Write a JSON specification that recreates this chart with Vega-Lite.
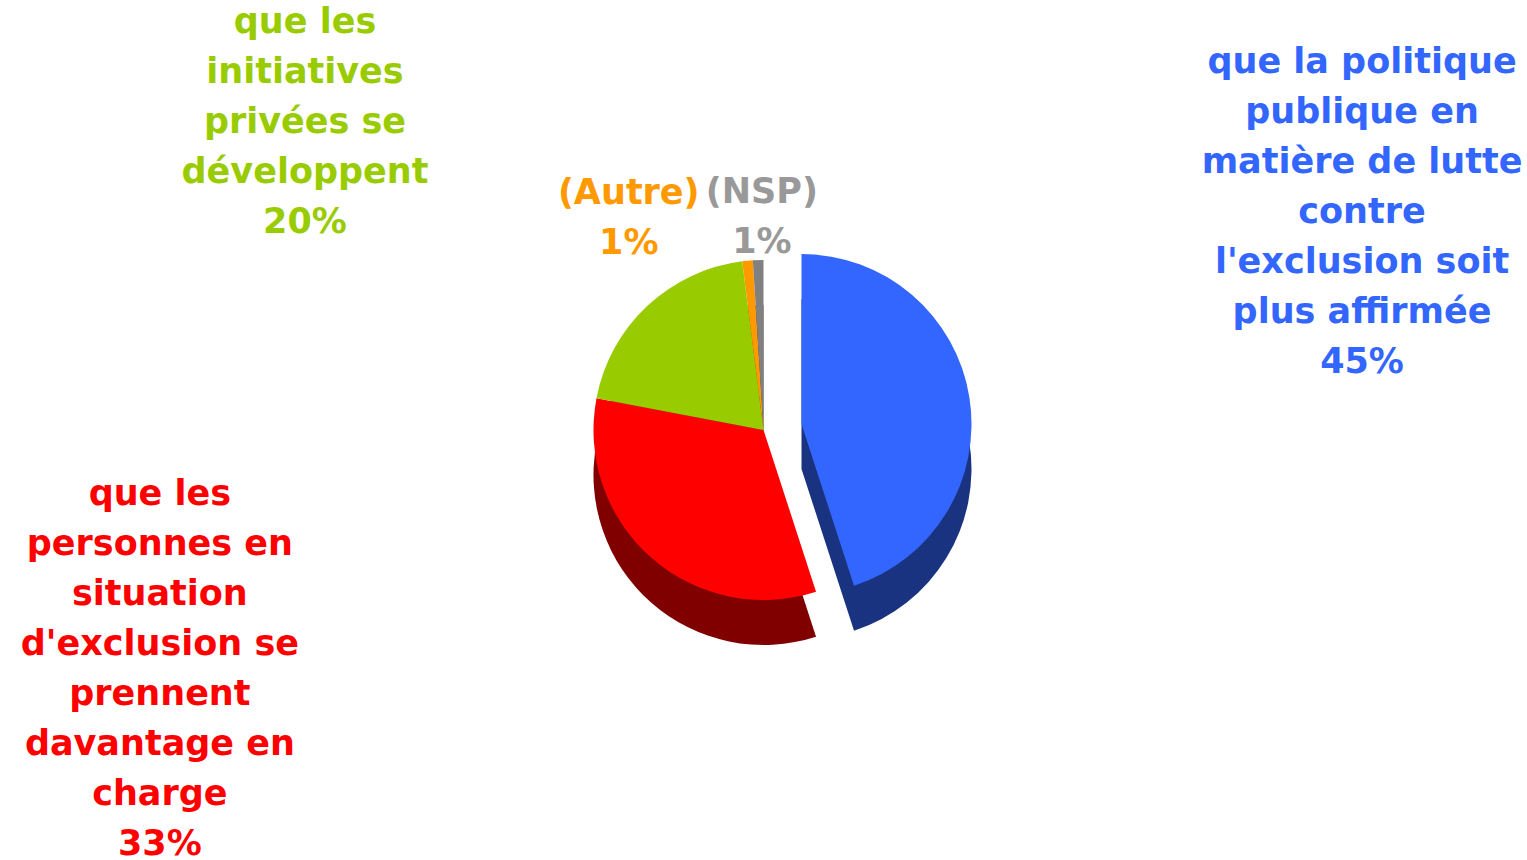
{
  "$schema": "https://vega.github.io/schema/vega-lite/v6.json",
  "width": 1527,
  "height": 860,
  "autosize": {"type": "none"},
  "padding": 0,
  "background": "#ffffff",
  "config": {"view": {"stroke": null}},
  "data": {
    "values": [
      {"categorie": "politique", "pct": 45, "ordre": 1, "label": "que la politique\npublique en\nmatière de lutte\ncontre\nl'exclusion soit\nplus affirmée\n45%"},
      {"categorie": "personnes", "pct": 33, "ordre": 2, "label": "que les\npersonnes en\nsituation\nd'exclusion se\nprennent\ndavantage en\ncharge\n33%"},
      {"categorie": "initiatives", "pct": 20, "ordre": 3, "label": "que les\ninitiatives\nprivées se\ndéveloppent\n20%"},
      {"categorie": "Autre", "pct": 1, "ordre": 4, "label": "(Autre)\n1%"},
      {"categorie": "NSP", "pct": 1, "ordre": 5, "label": "(NSP)\n1%"}
    ]
  },
  "encoding": {
    "theta": {"field": "pct", "type": "quantitative", "stack": true},
    "order": {"field": "ordre", "type": "quantitative"}
  },
  "resolve": {"scale": {"color": "independent"}},
  "layer": [
    {
      "mark": {"type": "arc", "outerRadius": 170, "yOffset": 45},
      "encoding": {
        "color": {"field": "categorie", "type": "nominal", "legend": null,
          "scale": {"domain": ["politique", "personnes", "initiatives", "Autre", "NSP"], "range": ["#1A3380", "#800000", "#4D6600", "#804C00", "#404040"]}},
        "opacity": {"condition": {"test": "datum.categorie === 'politique'", "value": 0}, "value": 1}
      }
    },
    {
      "mark": {"type": "arc", "outerRadius": 170, "xOffset": 38, "yOffset": 39},
      "encoding": {
        "color": {"field": "categorie", "type": "nominal", "legend": null,
          "scale": {"domain": ["politique", "personnes", "initiatives", "Autre", "NSP"], "range": ["#1A3380", "#800000", "#4D6600", "#804C00", "#404040"]}},
        "opacity": {"condition": {"test": "datum.categorie === 'politique'", "value": 1}, "value": 0}
      }
    },
    {
      "mark": {"type": "arc", "outerRadius": 170},
      "encoding": {
        "color": {"field": "categorie", "type": "nominal", "legend": null,
          "scale": {"domain": ["politique", "personnes", "initiatives", "Autre", "NSP"], "range": ["#3366FF", "#FF0000", "#99CC00", "#FF9900", "#808080"]}},
        "opacity": {"condition": {"test": "datum.categorie === 'politique'", "value": 0}, "value": 1}
      }
    },
    {
      "mark": {"type": "arc", "outerRadius": 170, "xOffset": 38, "yOffset": -6},
      "encoding": {
        "color": {"field": "categorie", "type": "nominal", "legend": null,
          "scale": {"domain": ["politique", "personnes", "initiatives", "Autre", "NSP"], "range": ["#3366FF", "#FF0000", "#99CC00", "#FF9900", "#808080"]}},
        "opacity": {"condition": {"test": "datum.categorie === 'politique'", "value": 1}, "value": 0}
      }
    },
    {
      "mark": {"type": "text", "radius": 606, "dy": -273, "font": "DejaVu Sans", "fontWeight": "bold", "fontSize": 35, "lineHeight": 50, "lineBreak": "\n", "align": "center", "baseline": "middle"},
      "encoding": {
        "color": {"value": "#3366FF"},
        "text": {"condition": {"test": "datum.categorie === 'politique'", "field": "label"}, "value": ""}
      }
    },
    {
      "mark": {"type": "text", "radius": 320, "dx": -392, "dy": -176, "font": "DejaVu Sans", "fontWeight": "bold", "fontSize": 35, "lineHeight": 50, "lineBreak": "\n", "align": "center", "baseline": "middle"},
      "encoding": {
        "color": {"value": "#FF0000"},
        "text": {"condition": {"test": "datum.categorie === 'personnes'", "field": "label"}, "value": ""}
      }
    },
    {
      "mark": {"type": "text", "radius": 420, "dx": -171, "dy": -102, "font": "DejaVu Sans", "fontWeight": "bold", "fontSize": 35, "lineHeight": 50, "lineBreak": "\n", "align": "center", "baseline": "middle"},
      "encoding": {
        "color": {"value": "#99CC00"},
        "text": {"condition": {"test": "datum.categorie === 'initiatives'", "field": "label"}, "value": ""}
      }
    },
    {
      "mark": {"type": "text", "radius": 210, "dx": -115, "dy": -28, "font": "DejaVu Sans", "fontWeight": "bold", "fontSize": 35, "lineHeight": 50, "lineBreak": "\n", "align": "center", "baseline": "middle"},
      "encoding": {
        "color": {"value": "#FF9900"},
        "text": {"condition": {"test": "datum.categorie === 'Autre'", "field": "label"}, "value": ""}
      }
    },
    {
      "mark": {"type": "text", "radius": 210, "dx": 5, "dy": -28, "font": "DejaVu Sans", "fontWeight": "bold", "fontSize": 35, "lineHeight": 50, "lineBreak": "\n", "align": "center", "baseline": "middle"},
      "encoding": {
        "color": {"value": "#999999"},
        "text": {"condition": {"test": "datum.categorie === 'NSP'", "field": "label"}, "value": ""}
      }
    }
  ]
}
